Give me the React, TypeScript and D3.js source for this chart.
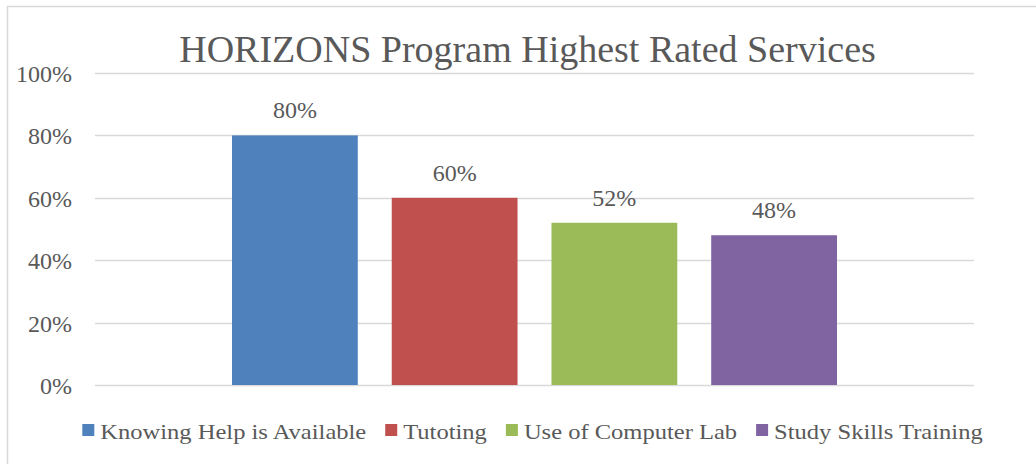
import React, { useEffect, useRef } from "react";
import * as d3 from "d3";

const title = "HORIZONS Program Highest Rated Services";
const seriesNames = ["Knowing Help is Available", "Tutoting", "Use of Computer Lab", "Study Skills Training"];
const seriesValues = [0.8, 0.6, 0.52, 0.48];
const seriesColors = ["#4F81BD", "#C0504D", "#9BBB59", "#8064A2"];
const yTicks = [0, 0.2, 0.4, 0.6, 0.8, 1.0];

const W = 1036;
const H = 464;
const FONT = "'Liberation Serif', 'DejaVu Serif', serif";
const TEXT = "#595959";

export default function App() {
  const ref = useRef<SVGSVGElement | null>(null);

  useEffect(() => {
    const svg = d3.select(ref.current);
    svg.selectAll("*").remove();

    const plotLeft = 95, plotRight = 974;
    const y = d3.scaleLinear().domain([0, 1]).range([385, 73]);
    const x = d3.scaleBand<string>().domain(seriesNames).range([232, 837]).paddingInner(0.2125).paddingOuter(0);
    const pct = d3.format(".0%");

    svg.append("rect").attr("x", 7.5).attr("y", 6.5).attr("width", W).attr("height", H)
      .attr("fill", "white").attr("stroke", "#D9D9D9").attr("stroke-width", 1.5);

    svg.append("text").attr("x", 527.5).attr("y", 62).attr("text-anchor", "middle")
      .attr("font-family", FONT).attr("font-size", 38).attr("fill", TEXT).text(title);

    // gridlines
    svg.append("g").selectAll("line").data(yTicks).join("line")
      .attr("x1", plotLeft).attr("x2", plotRight)
      .attr("y1", (d) => Math.round(y(d)) + 0.5).attr("y2", (d) => Math.round(y(d)) + 0.5)
      .attr("stroke", "#D9D9D9").attr("stroke-width", 1.5);

    svg.append("g").selectAll("text").data(yTicks).join("text")
      .attr("x", 72).attr("y", (d) => y(d) + 9).attr("text-anchor", "end")
      .attr("font-family", FONT).attr("font-size", 24).attr("fill", TEXT)
      .text((d) => pct(d));

    const idx = d3.range(seriesNames.length);
    svg.append("g").selectAll("rect").data(idx).join("rect")
      .attr("x", (i) => x(seriesNames[i])!).attr("width", x.bandwidth())
      .attr("y", (i) => y(seriesValues[i])).attr("height", (i) => y(0) - y(seriesValues[i]))
      .attr("fill", (i) => seriesColors[i]);

    svg.append("g").selectAll("text").data(idx).join("text")
      .attr("x", (i) => x(seriesNames[i])! + x.bandwidth() / 2)
      .attr("y", (i) => y(seriesValues[i]) - 17).attr("text-anchor", "middle")
      .attr("font-family", FONT).attr("font-size", 24).attr("fill", TEXT)
      .text((i) => pct(seriesValues[i]));

    // legend
    const lg = svg.append("g");
    const stretch = 1.115;
    const items = idx.map((i) => {
      const g = lg.append("g");
      g.append("rect").attr("width", 12).attr("height", 12).attr("y", 424).attr("fill", seriesColors[i]);
      const t = g.append("text").attr("x", 18).attr("y", 439)
        .attr("font-family", FONT).attr("font-size", 22).attr("fill", TEXT).text(seriesNames[i]);
      const w = (t.node() as SVGTextElement).getComputedTextLength() * stretch;
      t.attr("textLength", w).attr("lengthAdjust", "spacingAndGlyphs");
      return { g, w: 18 + w };
    });
    const gap = 19;
    const total = d3.sum(items, (d) => d.w) + gap * (items.length - 1);
    let cx = 532.5 - total / 2;
    items.forEach((it) => {
      it.g.attr("transform", `translate(${cx},0)`);
      cx += it.w + gap;
    });
  }, []);

  return (
    <svg ref={ref} width={W} height={H}
      style={{ position: "absolute", left: 0, top: 0, background: "white" }} />
  );
}
